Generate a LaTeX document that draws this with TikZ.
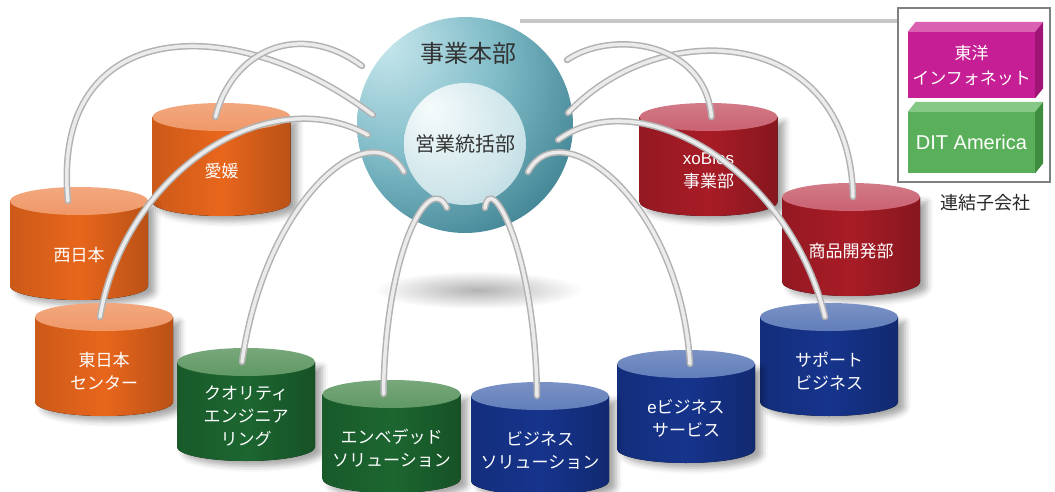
\documentclass[tikz,border=0pt]{standalone}
\usepackage{fontspec}
\newfontfamily\jp{Noto Sans CJK JP}
\newfontfamily\lat{Liberation Sans}
\usetikzlibrary{shadows.blur}

% Drum colours: body and lid
\definecolor{bodyOrg}{RGB}{232,102,28}
\definecolor{topOrg}{RGB}{240,152,104}
\definecolor{bodyGrn}{RGB}{28,102,48}
\definecolor{topGrn}{RGB}{96,152,100}
\definecolor{bodyBlu}{RGB}{22,52,140}
\definecolor{topBlu}{RGB}{98,126,186}
\definecolor{bodyRed}{RGB}{168,28,38}
\definecolor{topRed}{RGB}{202,98,114}
% Subsidiary blocks
\definecolor{magFront}{RGB}{198,30,148}
\definecolor{magTop}{RGB}{218,96,178}
\definecolor{magSide}{RGB}{160,20,118}
\definecolor{grnFront}{RGB}{90,176,90}
\definecolor{grnTop}{RGB}{134,200,134}
\definecolor{grnSide}{RGB}{62,140,62}
% Spheres
\definecolor{hqHi}{RGB}{202,232,238}
\definecolor{hqMid}{RGB}{128,188,200}
\definecolor{hqDeep}{RGB}{68,134,150}
\definecolor{hqLo}{RGB}{30,88,104}
\definecolor{hqRim}{RGB}{20,68,84}
\definecolor{slHi}{RGB}{246,251,252}
\definecolor{slMid}{RGB}{204,228,233}
\definecolor{slLo}{RGB}{136,184,196}

\pgfdeclareradialshading{hqball}{\pgfpoint{-20bp}{20bp}}{color(0bp)=(hqHi); color(22bp)=(hqMid); color(40bp)=(hqDeep); color(60bp)=(hqLo); color(80bp)=(hqRim)}
\pgfdeclareradialshading{salesball}{\pgfpoint{-15bp}{15bp}}{color(0bp)=(slHi); color(30bp)=(slMid); color(65bp)=(slLo)}

\begin{document}
\begin{tikzpicture}[x=1pt,y=-1pt,
  drumtext/.style={text=white, align=center, inner sep=0pt, font=\jp\fontsize{17}{23}\selectfont},
  blocktext/.style={text=white, align=center, inner sep=0pt, minimum width=127pt, font=\jp\fontsize{17}{25}\selectfont},
  tube/.style={line cap=round, line width=6.5pt, draw=black!30,
    postaction={draw=black!8, line cap=round, line width=3.5pt}},
  feed/.style={draw=black!22, line width=4pt}]

\useasboundingbox (0,0) rectangle (1055,492);

% Drum half width, lid half height, body height
\def\rx{69}
\def\ry{14}
\def\h{85}

% Soft shadow under the big sphere
\shade[inner color=black!30, outer color=white] (478,290) ellipse[x radius=105pt, y radius=19pt];

% Drums, back row first
\foreach \n/\x/\y/\c/\t in {
  ehime/221.5/117/Org/{愛媛},
  xoblos/708.5/117/Red/{{\lat xoBlos}\\事業部},
  devel/851/197/Red/{商品開発部},
  nishi/79/201/Org/{西日本},
  higashi/104/317/Org/{東日本\\センター},
  support/829/317/Blu/{サポート\\ビジネス},
  quality/246/362/Grn/{クオリティ\\エンジニア\\リング},
  ebiz/686/364/Blu/{{\lat e}ビジネス\\サービス},
  embedded/391.5/394/Grn/{エンベデッド\\ソリューション},
  bizsol/540/396/Blu/{ビジネス\\ソリューション}}{
  % body with its shadow
  \fill[blur shadow={shadow xshift=7pt,shadow yshift=-5pt,shadow blur radius=6pt,shadow opacity=35},
        left color=body\c!88!black, right color=body\c!80!black, middle color=body\c]
    (\x-\rx,\y) -- (\x-\rx,\y+\h) arc[start angle=180,end angle=360,x radius=\rx pt,y radius=\ry pt]
    -- (\x+\rx,\y) -- cycle;
  % lid
  \shade[top color=top\c!85!white, bottom color=top\c] (\x,\y) ellipse[x radius=\rx pt, y radius=\ry pt];
  \coordinate (\n-top) at (\x,\y);
  \node[drumtext] (\n) at (\x,\y+54) {\t};
}

% Subsidiary frame, and the line over to it
\node[circle, minimum size=216pt, inner sep=0pt] (hqedge) at (465,125) {};
\coordinate (feedstart) at ([shift={(55,4)}]hqedge.north);
\node[draw=black!50, line width=1.2pt, fill=white, minimum width=152pt, minimum height=174pt, inner sep=0pt] (subs) at (974,95) {};
\draw[feed] (feedstart) -- (feedstart -| subs.west);

\node[blocktext, fill=magFront, minimum height=66pt] (toyo) at (971.5,65) {東洋\\インフォネット};
\fill[magTop] (toyo.north west) -- ++(8,-10) -- ([shift={(8,-10)}]toyo.north east) -- (toyo.north east) -- cycle;
\fill[magSide] (toyo.north east) -- ++(8,-10) -- ([shift={(8,-10)}]toyo.south east) -- (toyo.south east) -- cycle;

\node[blocktext, fill=grnFront, minimum height=61pt, font=\lat\fontsize{20}{24}\selectfont] (dit) at (971.5,142.5) {DIT America};
\fill[grnTop] (dit.north west) -- ++(8,-10) -- ([shift={(8,-10)}]dit.north east) -- (dit.north east) -- cycle;
\fill[grnSide] (dit.north east) -- ++(8,-10) -- ([shift={(8,-10)}]dit.south east) -- (dit.south east) -- cycle;

\node[font=\jp\fontsize{18}{20}\selectfont, text=black!85] (subscap) at (985,203) {連結子会社};

% Head office and sales hub
\node[circle, minimum size=216pt, inner sep=0pt, shade, shading=hqball] (hq) at (465,125) {};
\node[font=\jp\fontsize{24}{26}\selectfont, text=black!80] (hqname) at (468,53) {事業本部};
\node[circle, minimum size=122pt, inner sep=0pt, shade, shading=salesball,
      font=\jp\fontsize{20}{22}\selectfont, text=black!80] (sales) at (465,144) {営業統括部};

% Tubes from each drum into the sphere
\foreach \n/\s/\ax/\ay/\bx/\by/\ex/\ey in {
  nishi/-11/50/15/235/10/-92/-10,
  ehime/-6/232/50/300/20/-103/-59,
  higashi/-4/125/170/270/80/-97/10,
  quality/-4/265/200/370/110/-61/47,
  embedded/-8/385/250/430/170/-18/83,
  bizsol/-3/535/250/490/170/20/83,
  ebiz/4/680/200/560/110/63/47,
  support/-4/790/170/640/80/93/15,
  devel/2/850/25/660/15/103/-12,
  xoblos/3/705/40/610/30/102/-65}{
  \draw[tube] ([xshift=\s pt]\n-top) .. controls (\ax,\ay) and (\bx,\by) .. ([shift={(\ex,\ey)}]hq.center);
}

\end{tikzpicture}
\end{document}
